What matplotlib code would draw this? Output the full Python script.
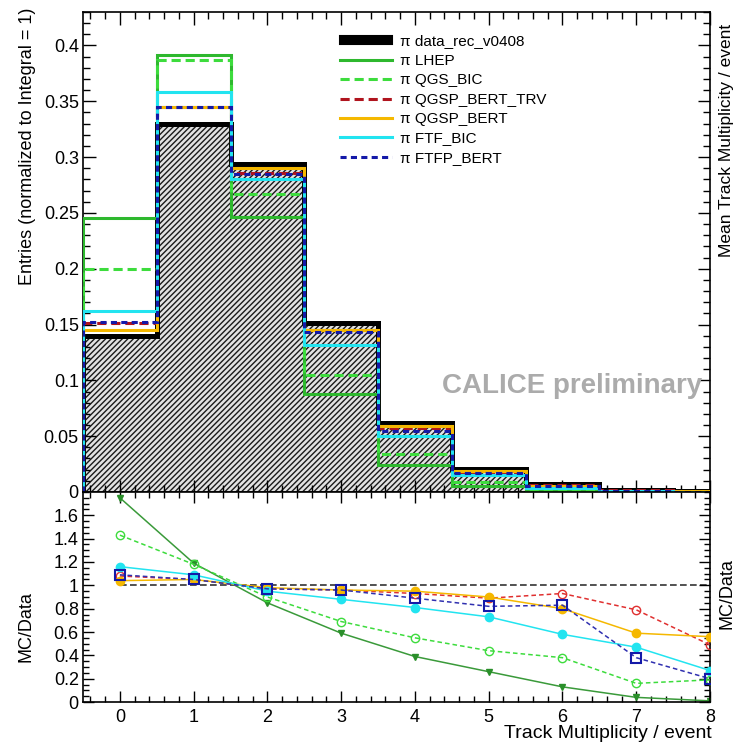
import numpy as np
import matplotlib
matplotlib.use("Agg")
import matplotlib.pyplot as plt
from matplotlib.lines import Line2D
from matplotlib.patches import Patch
from matplotlib.ticker import MultipleLocator, FixedLocator

plt.rcParams['font.family'] = ['Liberation Sans', 'DejaVu Sans']
plt.rcParams['hatch.linewidth'] = 1.0
plt.rcParams['hatch.color'] = '#1a1a1a'

# Track multiplicity bins (integer multiplicities, unit-wide bins)
multiplicity = np.arange(0, 9)
bin_edges = np.arange(-0.5, 9.0, 1.0)

# Normalised multiplicity distributions
data_rec = [0.140, 0.330, 0.294, 0.151, 0.0615, 0.0205, 0.0068, 0.0022, 0.0009]
lhep = [0.245, 0.391, 0.246, 0.0875, 0.024, 0.0054, 0.0009, 0.0001, 0.0]
qgs_bic = [0.200, 0.387, 0.267, 0.105, 0.034, 0.009, 0.0026, 0.0004, 0.0002]
qgsp_bert_trv = [0.151, 0.345, 0.286, 0.145, 0.057, 0.018, 0.0063, 0.0017, 0.0004]
qgsp_bert = [0.145, 0.345, 0.290, 0.145, 0.059, 0.0185, 0.0054, 0.0013, 0.0005]
ftf_bic = [0.162, 0.358, 0.280, 0.132, 0.050, 0.015, 0.0039, 0.0010, 0.0002]
ftfp_bert = [0.152, 0.345, 0.285, 0.143, 0.055, 0.017, 0.0056, 0.0008, 0.0002]

# MC / data ratios
r_lhep = [1.75, 1.19, 0.85, 0.59, 0.39, 0.26, 0.13, 0.04, 0.01]
r_qgs_bic = [1.43, 1.18, 0.90, 0.69, 0.55, 0.44, 0.38, 0.16, 0.19]
r_qgsp_bert_trv = [1.08, 1.05, 0.97, 0.96, 0.93, 0.89, 0.93, 0.79, 0.49]
r_qgsp_bert = [1.04, 1.05, 0.98, 0.96, 0.95, 0.90, 0.80, 0.59, 0.56]
r_ftf_bic = [1.16, 1.09, 0.95, 0.88, 0.81, 0.73, 0.58, 0.47, 0.27]
r_ftfp_bert = [1.09, 1.05, 0.97, 0.96, 0.89, 0.82, 0.83, 0.38, 0.20]

labels = ["data_rec_v0408", "LHEP", "QGS_BIC", "QGSP_BERT_TRV",
          "QGSP_BERT", "FTF_BIC", "FTFP_BERT"]

c_lhep = "#2eb82e"
c_qgs = "#3ddc3d"
c_trv = "#b0141e"
c_qgsp = "#f5b800"
c_ftf = "#22e4f0"
c_ftfp = "#1419a8"

mc_styles = [
    (lhep, r_lhep, dict(color=c_lhep, ls='-'), dict(marker='v', ms=4, mfc="#2a8f2a", mec="#2a8f2a", color="#3a9a3a", ls='-')),
    (qgs_bic, r_qgs_bic, dict(color=c_qgs, ls=(0, (3, 1.6))), dict(marker='o', ms=6, mfc='none', mec=c_qgs, color=c_qgs, ls=(0, (3, 2)))),
    (qgsp_bert_trv, r_qgsp_bert_trv, dict(color=c_trv, ls=(0, (3, 1.6))), dict(marker='o', ms=6, mfc='none', mec="#e03030", color="#e03030", ls=(0, (3, 2)))),
    (qgsp_bert, r_qgsp_bert, dict(color=c_qgsp, ls='-'), dict(marker='o', ms=6, mfc=c_qgsp, mec=c_qgsp, color=c_qgsp, ls='-')),
    (ftf_bic, r_ftf_bic, dict(color=c_ftf, ls='-'), dict(marker='o', ms=6, mfc=c_ftf, mec=c_ftf, color=c_ftf, ls='-')),
    (ftfp_bert, r_ftfp_bert, dict(color=c_ftfp, ls=(0, (2, 1.4))), dict(marker='s', ms=7, mfc='none', mec=c_ftfp, mew=1.5, color="#3030b0", ls=(0, (3, 2)))),
]

fig = plt.figure(figsize=(7.36, 7.47), dpi=100)
ax1 = fig.add_axes([0.1128, 0.3414, 0.8519, 0.6426])
ax2 = fig.add_axes([0.1128, 0.0602, 0.8519, 0.2812])

# --- upper panel: distributions ---
ax1.stairs(data_rec, bin_edges, fill=True, facecolor='#e2e2e2', edgecolor='#1a1a1a',
           hatch='//////', linewidth=0, zorder=1)
ax1.stairs(data_rec, bin_edges, color='black', linewidth=3.6, zorder=2)
for i, (vals, _, hst, _) in enumerate(mc_styles):
    ax1.stairs(vals, bin_edges, linewidth=2.2, zorder=3 + i, **hst)

ax1.set_xlim(-0.5, 8.0)
ax1.set_ylim(0, 0.43)
ax1.yaxis.set_major_locator(FixedLocator([0, 0.05, 0.1, 0.15, 0.2, 0.25, 0.3, 0.35, 0.4]))
ax1.yaxis.set_minor_locator(MultipleLocator(0.01))
ax1.xaxis.set_major_locator(MultipleLocator(1))
ax1.xaxis.set_minor_locator(MultipleLocator(0.2))
ax1.set_yticklabels(["0", "0.05", "0.1", "0.15", "0.2", "0.25", "0.3", "0.35", "0.4"])
ax1.tick_params(which='both', direction='in', top=True, right=True,
                labelbottom=False, labelsize=13, pad=3, width=1.0)
ax1.tick_params(which='major', length=9)
ax1.tick_params(which='minor', length=5)
for s in ax1.spines.values():
    s.set_linewidth(1.2)

ax1.text(0.987, 0.22, "CALICE preliminary", transform=ax1.transAxes,
         ha='right', va='center', fontsize=20, fontweight='bold', color='#ababab')

handles = [Patch(facecolor='black', edgecolor='black', hatch='////', linewidth=1.5)]
for vals, _, hst, _ in mc_styles:
    handles.append(Line2D([], [], linewidth=2.2, **hst))
leg = ax1.legend(handles, ["\u03c0 " + l for l in labels], loc='upper left',
                 bbox_to_anchor=(0.41, 0.953), frameon=False, fontsize=11,
                 handlelength=3.4, handleheight=0.5, handletextpad=0.5,
                 labelspacing=0.35, borderpad=0, borderaxespad=0)

# --- lower panel: ratios ---
ax2.set_facecolor('white')
ax2.set_zorder(ax1.get_zorder() + 1)
ax2.plot([0, 8], [1, 1], color='#333333', ls=(0, (4, 2)), lw=1.2, zorder=1)
for i, (_, ratio, _, rst) in enumerate(mc_styles):
    ax2.plot(multiplicity, ratio, lw=1.1, zorder=2 + i, **rst)

ax2.set_xlim(-0.5, 8.0)
ax2.set_ylim(0, 1.8)
ax2.xaxis.set_major_locator(MultipleLocator(1))
ax2.xaxis.set_minor_locator(MultipleLocator(0.2))
ax2.yaxis.set_major_locator(FixedLocator([0, 0.2, 0.4, 0.6, 0.8, 1.0, 1.2, 1.4, 1.6]))
ax2.yaxis.set_minor_locator(MultipleLocator(0.05))
ax2.set_yticklabels(["0", "0.2", "0.4", "0.6", "0.8", "1", "1.2", "1.4", "1.6"])
ax2.tick_params(which='both', direction='in', top=True, right=True,
                labelsize=13, width=1.0)
ax2.tick_params(axis='y', pad=3)
ax2.tick_params(axis='x', pad=5)
ax2.tick_params(which='major', length=8)
ax2.tick_params(which='minor', length=4)
for s in ax2.spines.values():
    s.set_linewidth(1.2)

# --- axis titles ---
fig.text(28 / 736, 1 - 146 / 747, "Entries (normalized to Integral = 1)",
         rotation=90, ha='center', va='center', fontsize=13)
fig.text(26 / 736, 1 - 627 / 747, "MC/Data", rotation=90, ha='center',
         va='center', fontsize=13)
fig.text(712 / 736, 1 - 733 / 747, "Track Multiplicity / event",
         ha='right', va='center', fontsize=14)
fig.text(727 / 736, 1 - 257 / 747, "Mean Track Multiplicity / event",
         rotation=90, ha='center', va='bottom', fontsize=12.5)
fig.text(727 / 736, 1 - 594 / 747, "MC/Data", rotation=90, ha='center',
         va='center', fontsize=13)

fig.savefig("out.png", dpi=100)
